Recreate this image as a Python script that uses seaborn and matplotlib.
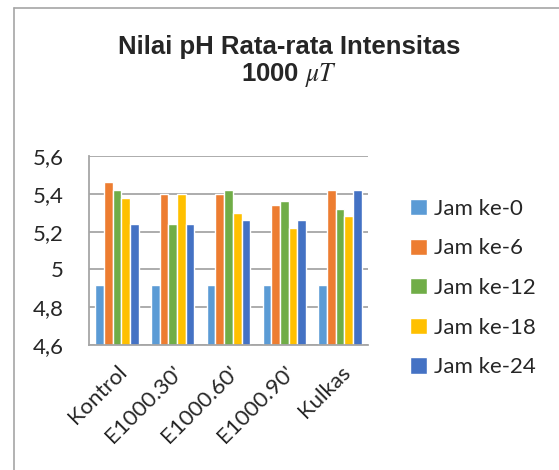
import pandas as pd
import numpy as np
import matplotlib.pyplot as plt
import seaborn as sns
from matplotlib.lines import Line2D

groups = ['Kontrol', "E1000.30'", "E1000.60'", "E1000.90'", 'Kulkas']
series = ['Jam ke-0', 'Jam ke-6', 'Jam ke-12', 'Jam ke-18', 'Jam ke-24']
jam0 = [4.92, 4.92, 4.92, 4.92, 4.92]
jam6 = [5.46, 5.40, 5.40, 5.34, 5.42]
jam12 = [5.42, 5.24, 5.42, 5.36, 5.32]
jam18 = [5.38, 5.40, 5.30, 5.22, 5.28]
jam24 = [5.24, 5.24, 5.26, 5.26, 5.42]
colors = ['#5B9BD5', '#ED7D31', '#70AD47', '#FFC000', '#4472C4']

rows = []
for name, vals in zip(series, [jam0, jam6, jam12, jam18, jam24]):
    for g, v in zip(groups, vals):
        rows.append({'grup': g, 'seri': name, 'pH': v})
df = pd.DataFrame(rows)

sns.set_style('white')
plt.rcParams['font.family'] = ['Lato', 'DejaVu Sans']
plt.rcParams['mathtext.fontset'] = 'stix'
fs = 16

fig = plt.figure(figsize=(5.59, 4.7), dpi=100)
ax = fig.add_axes([89/559, 1-345/470, 279/559, 189/470])
sns.barplot(data=df, x='grup', y='pH', hue='seri', palette=colors,
            width=0.78, gap=0, ax=ax, saturation=1, legend=True)

ax.set_ylim(4.6, 5.6)
ax.set_yticks([4.6, 4.8, 5.0, 5.2, 5.4, 5.6])
ax.set_yticklabels(['4,6', '4,8', '5', '5,2', '5,4', '5,6'], fontsize=fs)
ax.yaxis.grid(True, color='#A6A6A6', linewidth=1.3)
ax.set_axisbelow(True)
ax.tick_params(axis='y', length=0, pad=18)
ax.tick_params(axis='x', length=0, pad=12)
plt.setp(ax.get_xticklabels(), rotation=45, ha='right', rotation_mode='anchor', fontsize=fs)
ax.set_xlabel('')
ax.set_ylabel('')
for s in ['top', 'right']:
    ax.spines[s].set_visible(False)
for s in ['left', 'bottom']:
    ax.spines[s].set_color('#A6A6A6')
    ax.spines[s].set_linewidth(1.3)

leg = ax.legend(loc='upper left', bbox_to_anchor=(1.12, 0.82), frameon=False,
                fontsize=fs, handlelength=0.75, handleheight=0.75,
                handletextpad=0.3, labelspacing=0.88, borderaxespad=0)

fig.text(0.518, 1-47/470, 'Nilai pH Rata-rata Intensitas', ha='center', va='center',
         fontsize=18.5, fontweight='bold', family='Liberation Sans')
fig.text(0.518, 1-75/470, r'1000 $\mu T$', ha='center', va='center',
         fontsize=18.5, fontweight='bold', family='Liberation Sans')

fig.add_artist(Line2D([14/559, 1], [1-8/470, 1-8/470], color='#A6A6A6', linewidth=1.2))
fig.add_artist(Line2D([14/559, 14/559], [0, 1-8/470], color='#A6A6A6', linewidth=1.2))

fig.savefig('out.png', dpi=100)
